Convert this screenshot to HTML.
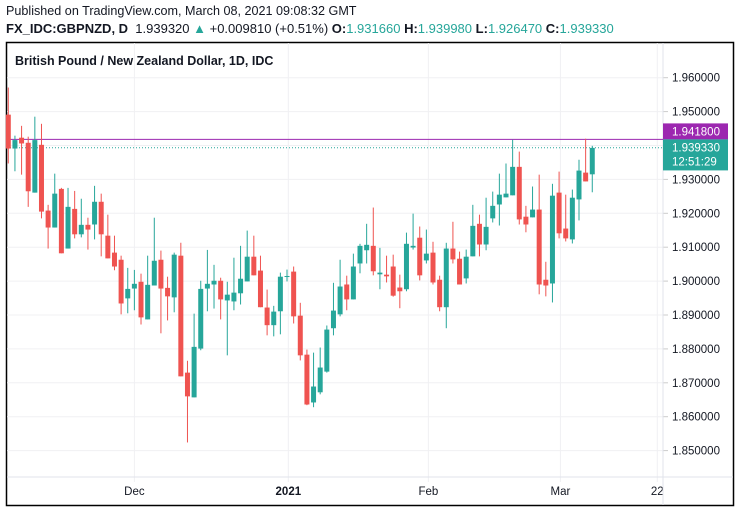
<!DOCTYPE html>
<html><head><meta charset="utf-8"><style>
body{margin:0;background:#fff;width:739px;height:512px;overflow:hidden;font-family:"Liberation Sans",sans-serif}
#hdr1{position:absolute;left:6px;top:4px;font-size:12.6px;color:#131722}
#hdr2{position:absolute;left:6px;top:21px;font-size:13px;color:#131722}
.g{color:#26a69a}
svg{position:absolute;left:0;top:0}
</style></head><body>
<div id="hdr1">Published on TradingView.com, March 08, 2021 09:08:32 GMT</div>
<div id="hdr2"><b>FX_IDC:GBPNZD, D</b>&nbsp; 1.939320 <span class="g">▲</span> +0.009810 (+0.51%) <b>O:</b><span class="g">1.931660</span> <b>H:</b><span class="g">1.939980</span> <b>L:</b><span class="g">1.926470</span> <b>C:</b><span class="g">1.939330</span></div>
<svg id="chart" width="739" height="512"></svg>
<script>
const opens=[1.9491,1.9391,1.9423,1.9408,1.9261,1.9402,1.9208,1.9158,1.9272,1.9096,1.9213,1.9138,1.9166,1.9167,1.9234,1.9134,1.9084,1.9063,1.8949,1.8978,1.8998,1.8887,1.8987,1.9063,1.8980,1.8952,1.9075,1.8730,1.8657,1.8801,1.8978,1.8990,1.9001,1.8943,1.8940,1.8964,1.8999,1.9072,1.9031,1.8922,1.8870,1.8911,1.9013,1.9028,1.8898,1.8783,1.8642,1.8672,1.8733,1.8861,1.8902,1.8990,1.8946,1.9052,1.9091,1.9104,1.9020,1.9019,1.9043,1.8981,1.8976,1.9099,1.9128,1.9061,1.9084,1.9004,1.8923,1.9096,1.9066,1.9008,1.9073,1.9169,1.9108,1.9185,1.9226,1.9247,1.9253,1.9337,1.9190,1.9188,1.9211,1.9004,1.8993,1.9261,1.9155,1.9123,1.9241,1.9320,1.9315];
const highs=[1.9571,1.9429,1.9458,1.9426,1.9485,1.9464,1.9225,1.9317,1.9275,1.9275,1.9266,1.9243,1.9187,1.9281,1.9258,1.9196,1.9134,1.9075,1.9039,1.9033,1.9022,1.9075,1.9187,1.9090,1.9013,1.9084,1.9113,1.8765,1.8904,1.9001,1.9092,1.9048,1.9010,1.8998,1.9069,1.9104,1.9149,1.9134,1.9075,1.8975,1.8927,1.9025,1.9034,1.9043,1.8936,1.8798,1.8789,1.8804,1.8869,1.8995,1.9063,1.9016,1.9081,1.9110,1.9169,1.9217,1.9098,1.9075,1.9078,1.9019,1.9143,1.9199,1.9161,1.9152,1.9116,1.9016,1.9113,1.9175,1.9087,1.9093,1.9225,1.9196,1.9246,1.9264,1.9317,1.9347,1.9417,1.9382,1.9222,1.9279,1.9314,1.9057,1.9287,1.9323,1.9255,1.9270,1.9358,1.9420,1.9399];
const lows=[1.9347,1.9324,1.9314,1.9219,1.9261,1.9185,1.9096,1.9158,1.9082,1.9096,1.9126,1.9129,1.9093,1.9123,1.9073,1.9067,1.9032,1.8902,1.8905,1.8914,1.8872,1.8887,1.8987,1.8846,1.8884,1.8908,1.8719,1.8524,1.8657,1.8796,1.8911,1.8919,1.8887,1.8781,1.8914,1.8931,1.8999,1.9017,1.8923,1.8840,1.8837,1.8843,1.8999,1.8875,1.8766,1.8634,1.8628,1.8666,1.8730,1.8840,1.8896,1.8914,1.8946,1.9023,1.9052,1.9017,1.8976,1.8996,1.8954,1.8920,1.8970,1.9093,1.9002,1.9052,1.8990,1.8911,1.8861,1.9052,1.8990,1.8993,1.9073,1.9073,1.9091,1.9173,1.9164,1.9247,1.9253,1.9167,1.9144,1.9188,1.8961,1.8955,1.8937,1.9126,1.9117,1.9111,1.9179,1.9294,1.9262];
const closes=[1.9391,1.9416,1.9406,1.9265,1.9416,1.9205,1.9158,1.9258,1.9082,1.9219,1.9138,1.9166,1.9152,1.9234,1.9138,1.9067,1.9043,1.8934,1.8977,1.8992,1.8893,1.8989,1.9060,1.8978,1.8955,1.9078,1.8719,1.8660,1.8806,1.8977,1.8992,1.9001,1.8946,1.8960,1.8966,1.9007,1.9072,1.9017,1.8923,1.8870,1.8910,1.9013,1.9015,1.8896,1.8781,1.8636,1.8689,1.8745,1.8857,1.8913,1.8984,1.8946,1.9043,1.9104,1.9107,1.9029,1.9025,1.9014,1.8957,1.8970,1.9110,1.9104,1.9017,1.9081,1.8996,1.8923,1.9096,1.9064,1.8990,1.9072,1.9163,1.9108,1.9160,1.9222,1.9255,1.9258,1.9337,1.9182,1.9167,1.9211,1.8990,1.8987,1.9252,1.9141,1.9126,1.9246,1.9326,1.9294,1.9393];
const priceTicks=[1.96,1.95,1.94,1.93,1.92,1.91,1.90,1.89,1.88,1.87,1.86,1.85];
const timeLabels=["Dec","2021","Feb","Mar","22"];
const timeIdx=[19,42.2,63.3,83.2,97.8];
const highLine=1.9418, lastPrice=1.93933;

const NS="http://www.w3.org/2000/svg";
const svg=document.getElementById('chart');
const y=p=>77.7+(1.96-p)*3390;
const x=i=>8.3+i*6.636;
function mk(t,a,p){const e=document.createElementNS(NS,t);for(const k in a)e.setAttribute(k,a[k]);(p||svg).appendChild(e);return e;}
let fr=mk('rect',{x:6.5,y:42.5,width:727,height:463,fill:'#fff',stroke:'#000','stroke-width':1.5});


priceTicks.forEach(p=>{
 let l=mk('line',{x1:7,x2:663,y1:y(p),y2:y(p),stroke:'#f0f0f3'});
 
 
 let tk=mk('line',{x1:663,x2:668,y1:y(p),y2:y(p),stroke:'#ccc'});
 
 
 let t=mk('text',{x:672,y:y(p)+4,'font-size':11.5,fill:'#131722','font-family':'Liberation Sans, sans-serif'});
 t.textContent=p.toFixed(6);
 
 
});
timeLabels.forEach((s,k)=>{
 const xx=x(timeIdx[k]);
 let l=mk('line',{x1:xx,x2:xx,y1:43,y2:482,stroke:'#f0f0f3'});
 
 
 let t=mk('text',{x:xx,y:495,'font-size':11.5,fill:'#131722','text-anchor':'middle','font-weight':s==='2021'?'bold':'normal','font-family':'Liberation Sans, sans-serif'});
 t.textContent=s;
 
 
});
let ax1=mk('line',{x1:663,x2:663,y1:43,y2:505,stroke:'#e0e3eb'});


let ax2=mk('line',{x1:7,x2:733,y1:477,y2:477,stroke:'#e0e3eb'});


let ttl=mk('text',{x:15,y:65,'font-size':12.5,'font-weight':'bold',fill:'#131722','font-family':'Liberation Sans, sans-serif'});
ttl.textContent='British Pound / New Zealand Dollar, 1D, IDC';


let hl=mk('line',{x1:7,x2:663,y1:y(highLine),y2:y(highLine),stroke:'#9c27b0','stroke-width':1});


let ll=mk('line',{x1:7,x2:663,y1:y(lastPrice),y2:y(lastPrice),stroke:'#26a69a','stroke-dasharray':'1,2'});


opens.forEach((o,i)=>{
 const c=closes[i],up=c>=o,col=up?'#26a69a':'#ef5350',cx=x(i);
 const g=mk('g',{});
 
 
 mk('line',{x1:cx,x2:cx,y1:y(highs[i]),y2:y(lows[i]),stroke:col,'stroke-width':1},g);
 const t=y(Math.max(o,c)),b=y(Math.min(o,c));
 mk('rect',{x:cx-2.5,y:t,width:5,height:Math.max(1,b-t),fill:col},g);
});
const hb=mk('g',{});


mk('rect',{x:663,y:y(highLine)-16,width:65,height:16,fill:'#9c27b0'},hb);
let ht=mk('text',{x:672,y:y(highLine)-4,'font-size':11.5,fill:'#fff','font-family':'Liberation Sans, sans-serif'},hb);
ht.textContent=highLine.toFixed(6);
const lb=mk('g',{});


mk('rect',{x:663,y:y(highLine),width:65,height:31,fill:'#26a69a'},lb);
let lt=mk('text',{x:672,y:y(highLine)+12,'font-size':11.5,fill:'#fff','font-family':'Liberation Sans, sans-serif'},lb);
lt.textContent=lastPrice.toFixed(6);
let ct=mk('text',{x:672,y:y(highLine)+26,'font-size':11.5,fill:'#fff','font-family':'Liberation Sans, sans-serif'},lb);
ct.textContent='12:51:29';
</script>
</body></html>
